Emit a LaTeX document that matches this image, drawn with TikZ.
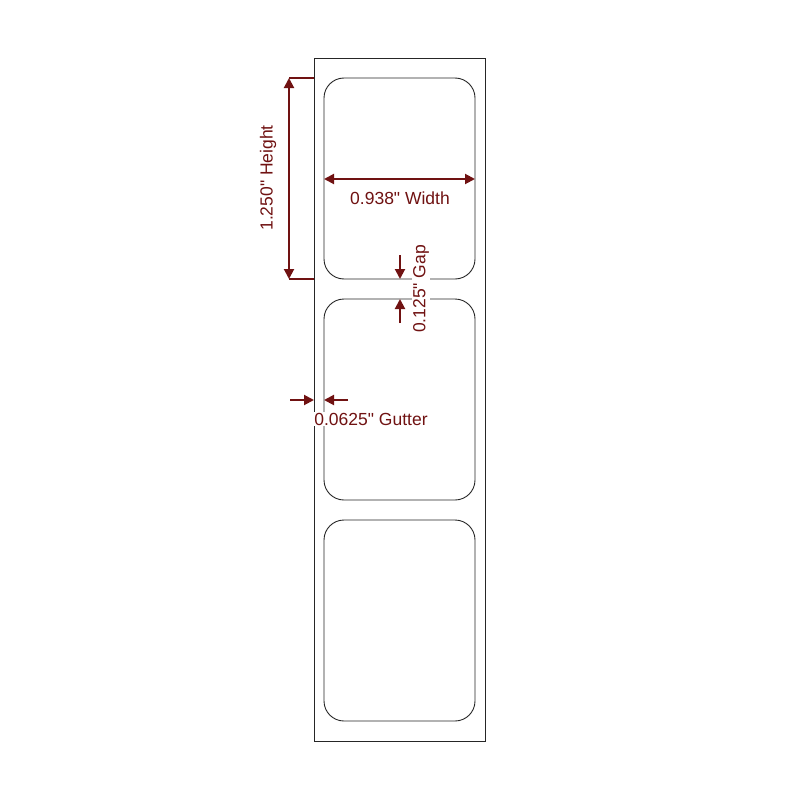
\documentclass[tikz,border=0pt]{standalone}
\usepackage{fontspec}
\setmainfont{Liberation Sans}[Ligatures=TeXOff]
\usetikzlibrary{positioning, arrows.meta}
\definecolor{dimred}{RGB}{112,18,18}
\tikzstyle{sheet}=[%
      draw=black!85, line width=0.9pt, fill=none
]
\tikzstyle{sticker}=[%
      draw=black!85, line width=0.9pt, rounded corners=20pt
]
\tikzstyle{dimline}=[%
      draw=dimred, line width=2pt
]
\tikzstyle{dimtext}=[%
      text=dimred, fill=white, inner sep=1pt, font=\fontsize{17.5}{20}\selectfont
]

\begin{document}
\begin{tikzpicture}[x=1pt, y=-1pt,
    >={Triangle[length=10pt,width=10pt]}
  ]
    \useasboundingbox (0,0) rectangle (800,800);
    \draw[sheet] (314,58) rectangle (485,741);
    \foreach \top in {78,299,520}
      \draw[sticker] (324,\top) rectangle ++(151,201);

    \coordinate (htop) at (289,78);
    \coordinate (hbot) at (289,279);
    \coordinate (wl) at (324,179);
    \coordinate (wr) at (475,179);
    \coordinate (ga) at (400,255);
    \coordinate (gb) at (400,279);
    \coordinate (gc) at (400,323);
    \coordinate (gd) at (400,299);
    \coordinate (ua) at (290,400);
    \coordinate (ub) at (314,400);
    \coordinate (uc) at (348,400);
    \coordinate (ud) at (324,400);

    \draw[dimline] (htop) -- (314,78);
    \draw[dimline] (hbot) -- (314,279);
    \draw[dimline, <->] (htop) -- (hbot);
    \draw[dimline, <->] (wl) -- (wr);
    \draw[dimline, ->] (ga) -- (gb);
    \draw[dimline, ->] (gc) -- (gd);
    \draw[dimline, ->] (ua) -- (ub);
    \draw[dimline, ->] (uc) -- (ud);

    \node[dimtext, rotate=90] (height) at (268,178) {1.250" Height};
    \node[dimtext] (width) at (400,198) {0.938" Width};
    \node[dimtext, rotate=90] (gap) at (421,289) {0.125" Gap};
    \node[dimtext] (gutter) at (371,419) {0.0625" Gutter};
  \end{tikzpicture}
\end{document}
